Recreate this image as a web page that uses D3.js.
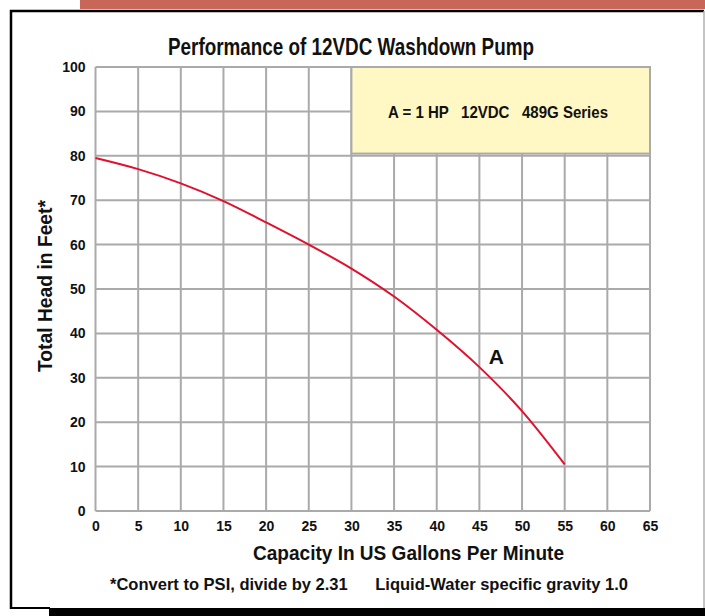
<!DOCTYPE html>
<html>
<head>
<meta charset="utf-8">
<script src="https://cdn.jsdelivr.net/npm/d3@7"></script>
<style>
  body { margin: 0; background: #ffffff; }
  svg text { font-family: "Liberation Sans", Arial, sans-serif; font-weight: bold; fill: #111; }
</style>
</head>
<body>
<div id="chart"></div>
<script>
// pump curve A
const flowGpm = [0, 5, 10, 15, 20, 25, 30, 35, 40, 45, 50, 55];
const headFt = [79.5, 77, 73.8, 69.8, 65, 60, 54.6, 48.3, 40.8, 32.4, 22.5, 10.5];
const flowTicks = [0, 5, 10, 15, 20, 25, 30, 35, 40, 45, 50, 55, 60, 65];
const headTicks = [0, 10, 20, 30, 40, 50, 60, 70, 80, 90, 100];
const legendText = "A = 1 HP   12VDC   489G Series";

const W = 705, H = 616;
const plot = {left: 95.5, right: 650, top: 67, bottom: 511};
const gridColor = "#aaaaaa";

const svg = d3.select("#chart").append("svg")
    .attr("width", W)
    .attr("height", H);

// condensed look: squeeze the text to the width it has in the original
function narrowText(sel, width) {
    return sel.attr("textLength", width).attr("lengthAdjust", "spacingAndGlyphs");
}

// page decorations: red band on top, black frame, black foot bar
svg.append("rect").attr("x", 80).attr("y", 0).attr("width", W - 80).attr("height", 9).attr("fill", "#c9665a");
svg.append("path")
    .attr("d", `M11,609 L11,11 L704,11`)
    .attr("fill", "none").attr("stroke", "#000").attr("stroke-width", 2.5);
svg.append("line").attr("x1", 704).attr("y1", 11).attr("x2", 704).attr("y2", 609)
    .attr("stroke", "#b0b0b0").attr("stroke-width", 1.5);
svg.append("line").attr("x1", 10).attr("y1", 608).attr("x2", 50).attr("y2", 608)
    .attr("stroke", "#000").attr("stroke-width", 2);
svg.append("rect").attr("x", 49).attr("y", 608).attr("width", W - 49).attr("height", H - 608).attr("fill", "#000");

const x = d3.scaleLinear().domain([0, 65]).range([plot.left, plot.right]);
const y = d3.scaleLinear().domain([0, 100]).range([plot.bottom, plot.top]);

// grid
const grid = svg.append("g").attr("stroke", gridColor).attr("stroke-width", 2);
grid.selectAll(".vx").data(flowTicks).enter().append("line")
    .attr("x1", d => x(d)).attr("x2", d => x(d))
    .attr("y1", y(0)).attr("y2", y(100));
grid.selectAll(".hy").data(headTicks).enter().append("line")
    .attr("x1", x(0)).attr("x2", x(65))
    .attr("y1", d => y(d)).attr("y2", d => y(d));

// legend box in the upper right
svg.append("rect")
    .attr("x", x(30)).attr("y", y(100))
    .attr("width", x(65) - x(30)).attr("height", y(80.5) - y(100))
    .attr("fill", "#fff8c4").attr("stroke", gridColor).attr("stroke-width", 2);
narrowText(svg.append("text")
    .attr("x", 388).attr("y", 118)
    .attr("xml:space", "preserve")
    .style("white-space", "pre")
    .style("font-size", "17px")
    .text(legendText), 220);

// axes
const yAxis = svg.append("g")
    .attr("transform", `translate(${plot.left},0)`)
    .call(d3.axisLeft(y).tickValues(headTicks).tickSize(0).tickPadding(10));
const xAxis = svg.append("g")
    .attr("transform", `translate(0,${plot.bottom})`)
    .call(d3.axisBottom(x).tickValues(flowTicks).tickSize(0).tickPadding(10));
[xAxis, yAxis].forEach(a => {
    a.attr("font-family", null).attr("font-size", null);
    a.select(".domain").remove();
    a.selectAll("text").style("font-size", "14px").attr("fill", "#111");
});

// curve
const line = d3.line()
    .x((d, i) => x(flowGpm[i]))
    .y(d => y(d))
    .curve(d3.curveMonotoneX);
svg.append("path")
    .datum(headFt)
    .attr("d", line)
    .attr("fill", "none")
    .attr("stroke", "#e0102e")
    .attr("stroke-width", 2);

svg.append("text")
    .attr("x", x(47)).attr("y", y(33))
    .attr("text-anchor", "middle")
    .style("font-size", "21px")
    .text("A");

// titles
narrowText(svg.append("text")
    .attr("x", 168).attr("y", 55)
    .style("font-size", "24px")
    .text("Performance of 12VDC Washdown Pump"), 366);

narrowText(svg.append("text")
    .attr("x", 253).attr("y", 560)
    .style("font-size", "19.5px")
    .text("Capacity In US Gallons Per Minute"), 311);

narrowText(svg.append("text")
    .attr("transform", "translate(52,372) rotate(-90)")
    .style("font-size", "19.5px")
    .text("Total Head in Feet*"), 172);

narrowText(svg.append("text")
    .attr("x", 110).attr("y", 590)
    .attr("xml:space", "preserve")
    .style("white-space", "pre")
    .style("font-size", "17px")
    .text("*Convert to PSI, divide by 2.31      Liquid-Water specific gravity 1.0"), 518);
</script>
</body>
</html>
